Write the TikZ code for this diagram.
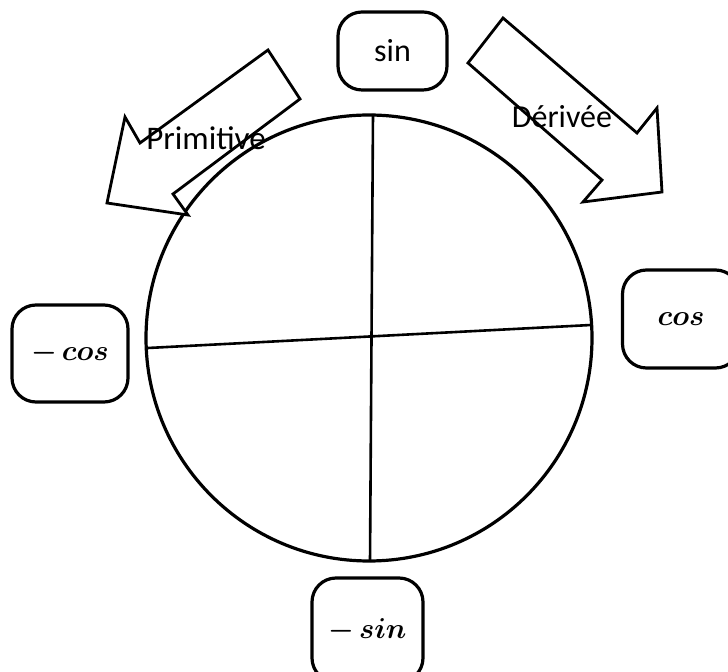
\documentclass[tikz,border=0pt]{standalone}
\usepackage{bm}
\usepackage{fontspec}
\setmainfont{Carlito}
\tikzset{
  fbox/.style={draw, line width=1.6pt, rounded corners=12pt, inner sep=0pt},
  barrow/.style={draw, line width=1.4pt, fill=white, line join=miter},
}
\begin{document}
\begin{tikzpicture}[x=0.5pt,y=-0.5pt]
    \useasboundingbox (0,0) rectangle (728,672);
    \clip (0,0) rectangle (728,672);
    % circle and axes
    \coordinate (O) at (369,338);
    \coordinate (N) at (373,114);
    \coordinate (S) at (370,562);
    \coordinate (W) at (148,348);
    \coordinate (E) at (591,325);
    \draw [line width=1.6pt] (O) circle [radius=111.5pt];
    \draw [line width=1.3pt] (N) -- (S);
    \draw [line width=1.3pt] (W) -- (E);
    % block arrows
    \draw [barrow] (268,50) -- (140,143) -- (125,117) -- (107,203)
      -- (188,215) -- (173,194) -- (300,99) -- cycle;
    \draw [barrow] (503,18) -- (637,133) -- (657,108) -- (662,192)
      -- (583,202) -- (602,180) -- (468,63) -- cycle;
    \node (P) at (206,138) {\fontsize{16.5}{18}\selectfont Primitive};
    \node (D) at (562,117) {\fontsize{16}{18}\selectfont Dérivée};
    % functions
    \node (F0) [fbox, minimum width=54.5pt, minimum height=39pt] at (392.5,51)
      {\fontsize{16}{18}\selectfont sin};
    \node (F1) [fbox, minimum width=58.5pt, minimum height=49pt] at (681,319)
      {\fontsize{15}{18}\selectfont $\bm{cos}$};
    \node (F2) [fbox, minimum width=55.5pt, minimum height=52pt] at (367.5,630)
      {\fontsize{15}{18}\selectfont $\bm{-\,sin}$};
    \node (F3) [fbox, minimum width=58pt, minimum height=48.5pt] at (70,353.5)
      {\fontsize{15}{18}\selectfont $\bm{-\,cos}$};
\end{tikzpicture}
\end{document}
